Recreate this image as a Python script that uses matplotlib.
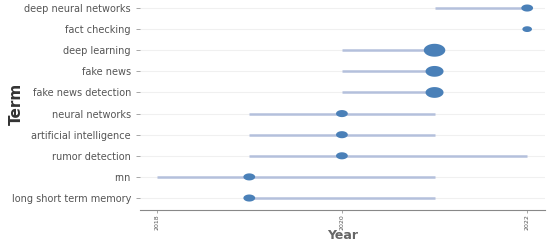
import matplotlib
matplotlib.use("Agg")
import matplotlib.pyplot as plt
import numpy as np
from matplotlib.path import Path

# terms listed bottom to top
terms = ["long short term memory", "rnn", "rumor detection", "artificial intelligence",
         "neural networks", "fake news detection", "fake news", "deep learning",
         "fact checking", "deep neural networks"]
year_start = [2019, 2018, 2019, 2019, 2019, 2020, 2020, 2020, 2022, 2021]
year_end = [2021, 2021, 2022, 2021, 2021, 2021, 2021, 2021, 2022, 2022]
year_median = [2019, 2019, 2020, 2020, 2020, 2021, 2021, 2021, 2022, 2022]
freq = [6, 6, 6, 6, 6, 14, 14, 20, 4, 6]

# slightly flattened dots like the original
t = np.linspace(0, 2 * np.pi, 60)
ellipse = Path(np.column_stack([np.cos(t), 0.6 * np.sin(t)]), closed=True)

fig = plt.figure(figsize=(5.5, 2.42), dpi=100)
ax = fig.add_axes([0.2545, 0.132, 0.736, 0.868])

ypos = list(range(len(terms)))
ax.hlines(ypos, year_start, year_end, color="#b4c0dc", linewidth=1.8, zorder=2)
ax.scatter(year_median, ypos, s=[f * 12 for f in freq], marker=ellipse,
           color="#4a80b8", edgecolors="none", zorder=3)

ax.set_yticks(ypos)
ax.set_yticklabels(terms, fontsize=7, color="#555555")
ax.set_xticks([2018, 2020, 2022])
ax.set_xticklabels(["2018", "2020", "2022"], rotation=90, fontsize=4.5, color="#555555")
ax.set_xlim(2017.82, 2022.19)
ax.set_ylim(-0.57, 9.38)

ax.grid(axis="y", color="#f0f0f0", linewidth=0.8, zorder=0)
for s in ["top", "right", "left"]:
    ax.spines[s].set_visible(False)
ax.spines["bottom"].set_color("#888888")
ax.spines["bottom"].set_linewidth(0.8)
ax.tick_params(axis="both", colors="#999999", length=3, width=0.6, labelcolor="#555555")
ax.tick_params(axis="x", length=2, pad=1)

fig.text(0.622, 0.028, "Year", fontsize=9, fontweight="bold", color="#666666",
         ha="center", va="center")
fig.text(0.03, 0.57, "Term", rotation=90, fontsize=11, fontweight="bold",
         color="#333333", ha="center", va="center")

fig.savefig("out.png", dpi=100)
